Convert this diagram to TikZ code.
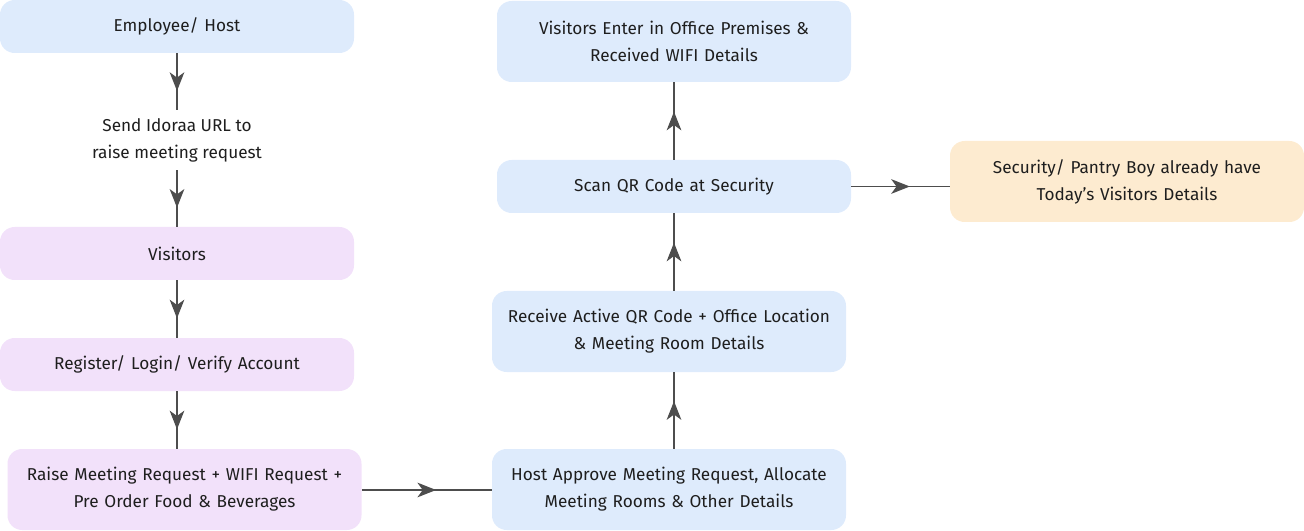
\documentclass[tikz,border=0pt]{standalone}
\usepackage{fontspec}
\setmainfont{Fira Sans}
\usetikzlibrary{arrows.meta,decorations.markings}

\definecolor{hostblue}{HTML}{DEEBFC}
\definecolor{guestlilac}{HTML}{F2E1FA}
\definecolor{staffpeach}{HTML}{FDEBD0}
\definecolor{linegray}{HTML}{4D4D4D}
\definecolor{inkdark}{HTML}{1E1E1E}

\tikzset{
  stage/.style={rounded corners=11pt, minimum width=265.5pt, text width=255pt,
    align=center, inner sep=0pt, text=inkdark,
    font=\fontsize{12.9}{20.25}\selectfont},
  short/.style={stage, minimum height=39.75pt},
  tall/.style={stage, minimum height=60.75pt},
  flow/.style={draw=linegray, line width=1.1pt, postaction={decorate},
    decoration={markings, mark=at position 0.5 with
      {\arrow[xshift=7pt]{Stealth[length=14pt,width=11pt,inset=4pt]}}}}
}

\begin{document}
\begin{tikzpicture}[x=0.75pt,y=-0.75pt]
 \useasboundingbox (0,0) rectangle (1304,531);

 % left column
 \node [short, fill=hostblue] (host) at (177,26.5) {Employee/ Host};
 \node [text=inkdark, align=center, inner sep=6pt,
   font=\fontsize{12.9}{20.25}\selectfont] (url) at (177,140)
   {Send Idoraa URL to\\raise meeting request};
 \node [short, fill=guestlilac] (visitors) at (177,253.5) {Visitors};
 \node [short, fill=guestlilac] (login) at (177,364.5) {Register/ Login/ Verify Account};
 \node [tall, fill=guestlilac] (raise) at (184.5,489.5)
   {Raise Meeting Request + WIFI Request +\\Pre Order Food \& Beverages};

 % right column
 \node [tall, fill=hostblue] (approve) at (669,489.5)
   {Host Approve Meeting Request, Allocate\\Meeting Rooms \& Other Details};
 \node [tall, fill=hostblue] (qrcode) at (669,331.5)
   {Receive Active QR Code + Office Location\\\& Meeting Room Details};
 \node [short, fill=hostblue] (scan) at (674,186.5) {Scan QR Code at Security};
 \node [tall, fill=hostblue] (enter) at (674,41.5)
   {Visitors Enter in Office Premises \&\\Received WIFI Details};
 \node [tall, fill=staffpeach] (pantry) at (1127,181.5)
   {Security/ Pantry Boy already have\\Today’s Visitors Details};

 % connectors
 \draw [flow] (host) -- (url);
 \draw [flow] (url) -- (visitors);
 \draw [flow] (visitors) -- (login);
 \draw [flow] (login) -- (raise.north -| login);
 \draw [flow] (raise.east |- 0,490) -- (approve.west |- 0,490);
 \draw [flow] (approve.north -| 674,0) -- (qrcode.south -| 674,0);
 \draw [flow] (qrcode.north -| 674,0) -- (scan);
 \draw [flow] (scan) -- (enter);
 \draw [flow] (scan) -- (pantry.west |- scan);
\end{tikzpicture}
\end{document}
